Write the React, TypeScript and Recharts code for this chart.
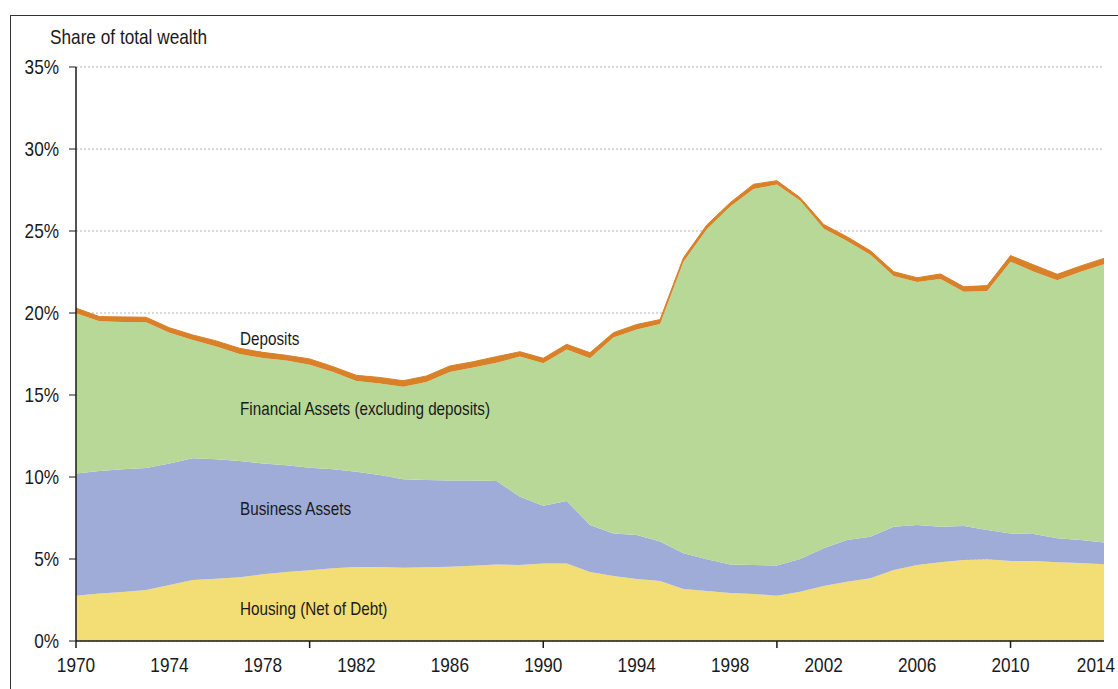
import React from 'react';
import { AreaChart, Area, XAxis, YAxis, CartesianGrid } from 'recharts';

// share of total wealth, %
const years = [
  1970, 1971, 1972, 1973, 1974, 1975, 1976, 1977, 1978, 1979,
  1980, 1981, 1982, 1983, 1984, 1985, 1986, 1987, 1988, 1989,
  1990, 1991, 1992, 1993, 1994, 1995, 1996, 1997, 1998, 1999,
  2000, 2001, 2002, 2003, 2004, 2005, 2006, 2007, 2008, 2009,
  2010, 2011, 2012, 2013, 2014,
];

const housing = [
  2.76, 2.9, 2.99, 3.11, 3.41, 3.72, 3.8, 3.88, 4.07, 4.21,
  4.31, 4.43, 4.51, 4.51, 4.47, 4.49, 4.53, 4.59, 4.67, 4.63,
  4.72, 4.72, 4.21, 3.96, 3.78, 3.66, 3.17, 3.05, 2.93, 2.87,
  2.76, 3.01, 3.35, 3.62, 3.82, 4.33, 4.63, 4.8, 4.94, 4.98,
  4.88, 4.88, 4.8, 4.76, 4.68,
];

const business = [
  7.46, 7.47, 7.48, 7.44, 7.42, 7.42, 7.28, 7.1, 6.76, 6.5,
  6.26, 6.04, 5.81, 5.61, 5.39, 5.33, 5.25, 5.19, 5.09, 4.17,
  3.53, 3.82, 2.86, 2.6, 2.68, 2.4, 2.18, 1.93, 1.74, 1.76,
  1.85, 1.99, 2.3, 2.54, 2.54, 2.64, 2.44, 2.17, 2.07, 1.79,
  1.68, 1.64, 1.46, 1.4, 1.32,
];

const financial = [
  9.76, 9.13, 8.98, 8.88, 7.97, 7.21, 6.87, 6.52, 6.42, 6.39,
  6.28, 5.93, 5.53, 5.58, 5.64, 5.98, 6.62, 6.9, 7.21, 8.54,
  8.68, 9.24, 10.17, 11.94, 12.54, 13.27, 17.78, 20.12, 21.83, 22.93,
  23.22, 21.85, 19.51, 18.23, 17.19, 15.29, 14.82, 15.1, 14.29, 14.57,
  16.57, 16.0, 15.74, 16.36, 16.97,
];

const deposits = [
  0.32, 0.28, 0.31, 0.31, 0.3, 0.31, 0.35, 0.35, 0.35, 0.32,
  0.35, 0.33, 0.35, 0.37, 0.37, 0.36, 0.37, 0.35, 0.37, 0.3,
  0.31, 0.31, 0.34, 0.3, 0.3, 0.27, 0.24, 0.27, 0.23, 0.29,
  0.24, 0.18, 0.24, 0.26, 0.25, 0.26, 0.26, 0.31, 0.3, 0.33,
  0.37, 0.41, 0.36, 0.35, 0.36,
];

const yTicks = [0, 5, 10, 15, 20, 25, 30, 35];
const yearLabels = [1970, 1974, 1978, 1982, 1986, 1990, 1994, 1998, 2002, 2006, 2010, 2014];
const decadeMarks = [1970, 1980, 1990, 2000, 2010];
const xTicks = [...new Set([...yearLabels, ...decadeMarks])].sort((a, b) => a - b);

const data = years.map((year, i) => ({
  year,
  housing: housing[i],
  business: business[i],
  financial: financial[i],
  deposits: deposits[i],
}));

// no narrow font installed: squeeze Liberation Sans to Arial Narrow proportions
const FONT = '"Liberation Sans", Arial, sans-serif';
const NARROW = 0.82;
const INK = '#1a1a1a';

function YearTick({ x, y, payload }: any) {
  const v = payload.value;
  // last label sits a little inside the frame, as in the original
  const lx = v === 2014 ? x - 8 : x;
  return (
    <g>
      {decadeMarks.includes(v) && (
        <line x1={x} x2={x} y1={y} y2={y + 7} stroke={INK} strokeWidth={1.5} />
      )}
      {yearLabels.includes(v) && (
        <text
          transform={`translate(${lx},${y + 31}) scale(${NARROW},1)`}
          textAnchor="middle"
          fontSize={21}
          fill={INK}
          fontFamily={FONT}
        >
          {v}
        </text>
      )}
    </g>
  );
}

function PctTick({ x, y, payload }: any) {
  return (
    <text
      transform={`translate(${x},${y}) scale(${NARROW},1)`}
      dy="0.355em"
      textAnchor="end"
      fontSize={21}
      fill={INK}
      fontFamily={FONT}
    >
      {`${payload.value}%`}
    </text>
  );
}

const labelStyle: React.CSSProperties = {
  position: 'absolute',
  left: 240,
  fontFamily: FONT,
  fontSize: 18.6,
  lineHeight: 1,
  color: INK,
  whiteSpace: 'nowrap',
  transform: `scaleX(${NARROW})`,
  transformOrigin: 'left center',
};

export default function App() {
  return (
    <div
      style={{
        position: 'fixed',
        left: 0,
        top: 0,
        width: 1118,
        height: 689,
        overflow: 'hidden',
        background: '#fff',
      }}
    >
      <div
        style={{
          position: 'absolute',
          left: 10,
          top: 15,
          width: 1120,
          height: 700,
          borderTop: '1.5px solid #333',
          borderLeft: '1.5px solid #333',
        }}
      />
      <AreaChart
        width={1118}
        height={689}
        data={data}
        margin={{ top: 67, right: 14, bottom: 0, left: 0 }}
        style={{ position: 'absolute', left: 0, top: 0 }}
      >
        <CartesianGrid vertical={false} stroke="#b5b5b5" strokeDasharray="2 2" />
        <XAxis
          dataKey="year"
          type="number"
          domain={[1970, 2014]}
          ticks={xTicks}
          interval={0}
          height={48}
          tickSize={0}
          tickMargin={0}
          tickLine={false}
          tick={<YearTick />}
          axisLine={{ stroke: INK, strokeWidth: 1.5 }}
        />
        <YAxis
          type="number"
          domain={[0, 35]}
          ticks={yTicks}
          interval={0}
          width={76}
          tickSize={7}
          tickMargin={10}
          tick={<PctTick />}
          tickLine={{ stroke: INK }}
          axisLine={{ stroke: INK, strokeWidth: 1.5 }}
        />
        <Area type="linear" dataKey="housing" stackId="1" fill="#f2de74" fillOpacity={1} stroke="none" isAnimationActive={false} />
        <Area type="linear" dataKey="business" stackId="1" fill="#9facd8" fillOpacity={1} stroke="none" isAnimationActive={false} />
        <Area type="linear" dataKey="financial" stackId="1" fill="#b8d898" fillOpacity={1} stroke="none" isAnimationActive={false} />
        <Area type="linear" dataKey="deposits" stackId="1" fill="#d98128" fillOpacity={1} stroke="#d98128" strokeWidth={1} isAnimationActive={false} />
      </AreaChart>
      <div
        style={{
          position: 'absolute',
          left: 50,
          top: 26,
          fontFamily: FONT,
          fontSize: 21,
          lineHeight: 1,
          color: INK,
          whiteSpace: 'nowrap',
          transform: `scaleX(${NARROW})`,
          transformOrigin: 'left center',
        }}
      >
        Share of total wealth
      </div>
      <div style={{ ...labelStyle, top: 329.5 }}>Deposits</div>
      <div style={{ ...labelStyle, top: 399.5 }}>Financial Assets (excluding deposits)</div>
      <div style={{ ...labelStyle, top: 499.5 }}>Business Assets</div>
      <div style={{ ...labelStyle, top: 599.5 }}>Housing (Net of Debt)</div>
    </div>
  );
}
